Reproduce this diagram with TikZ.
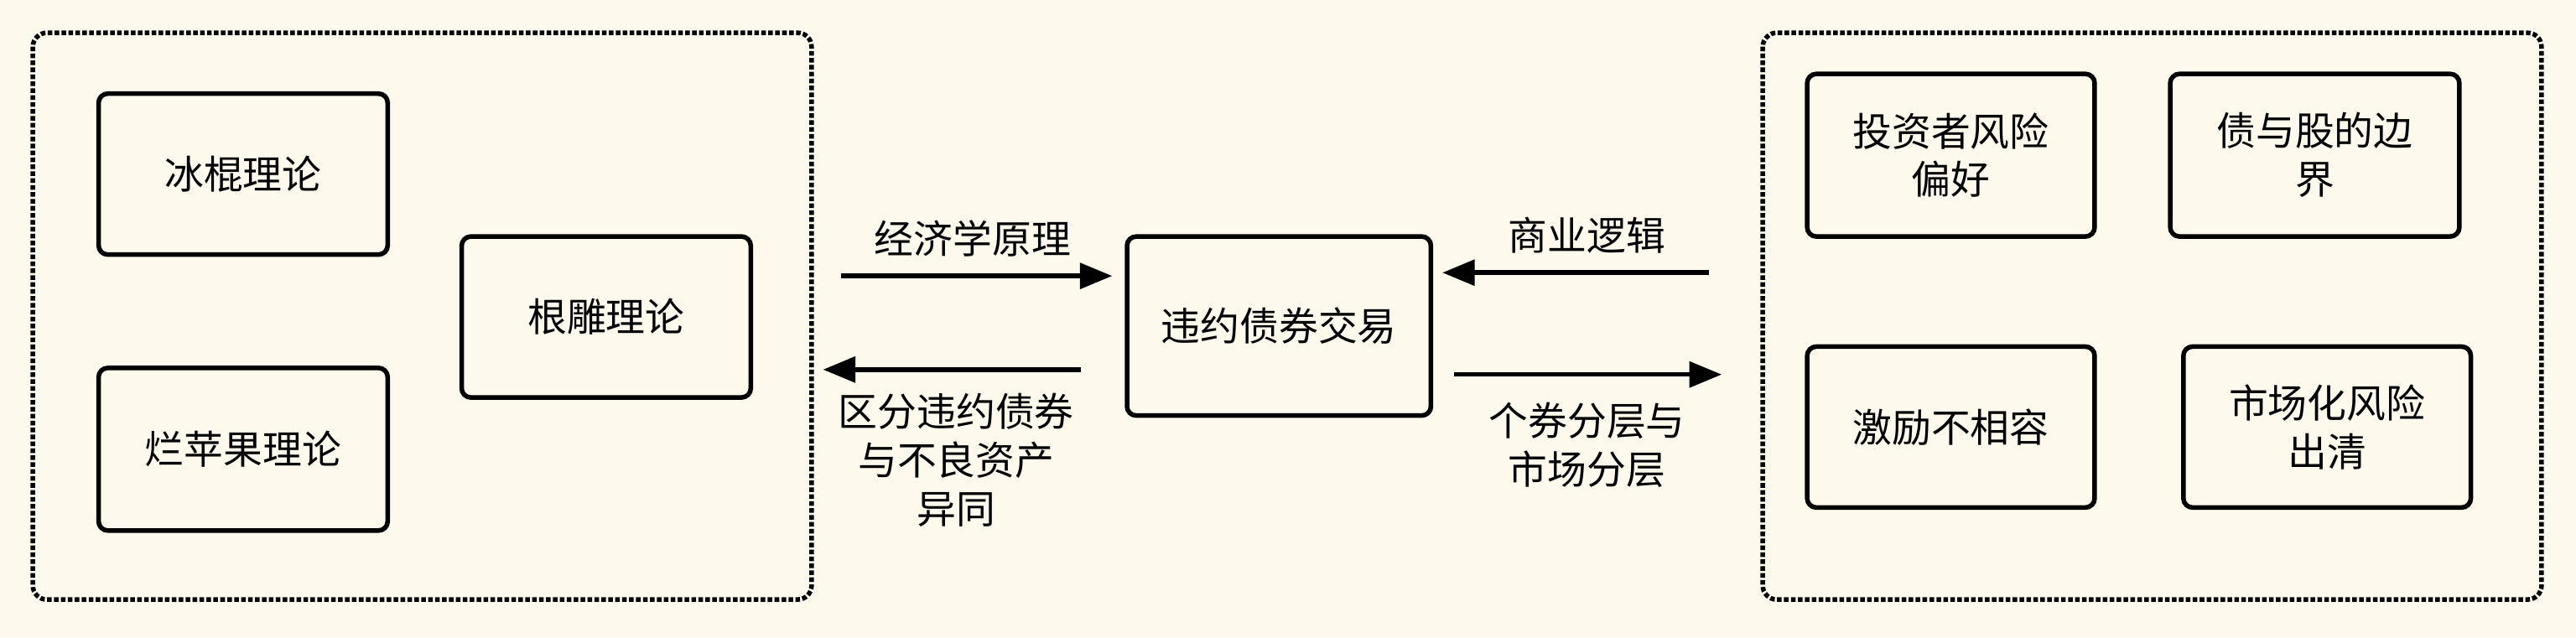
\documentclass[tikz,border=0pt]{standalone}
\usepackage{fontspec}
\setmainfont{Noto Sans CJK SC}
\usetikzlibrary{arrows.meta}
\definecolor{bg}{HTML}{FDF9EC}
\begin{document}
\begin{tikzpicture}[x=0.05cm,y=-0.05cm,
  box/.style={draw,line width=4pt,rounded corners=8pt,fill=bg,align=center},
  cont/.style={draw,line width=4pt,dotted,rounded corners=12pt},
  lab/.style={align=center,font=\fontsize{34}{42}\selectfont},
  arr/.style={line width=4pt,-{Triangle[length=28pt,width=22pt]}}]
\fill[bg] (0,0) rectangle (1568,388);
\useasboundingbox (0,0) rectangle (1568,388);
\draw[cont] (20,20) rectangle (494,365);
\draw[cont] (1073,20) rectangle (1547,365);
\def\bx#1#2#3#4#5#6{\draw[box] (#2,#3) rectangle (#4,#5); \node[lab] (#1) at ({(#2+#4)/2},{(#3+#5)/2}) {#6};}
\bx{a}{60}{57}{236}{155}{冰棍理论}
\bx{b}{60}{224}{236}{323}{烂苹果理论}
\bx{c}{281}{144}{457}{242}{根雕理论}
\bx{d}{686}{144}{871}{253}{违约债券交易}
\bx{e}{1100}{45}{1275}{144}{投资者风险\\偏好}
\bx{f}{1321}{45}{1497}{144}{债与股的边\\界}
\bx{g}{1100}{211}{1275}{309}{激励不相容}
\bx{h}{1329}{211}{1504}{309}{市场化风险\\出清}
\coordinate (p1) at (512,168); \coordinate (p2) at (677,168);
\coordinate (q1) at (658,225); \coordinate (q2) at (501,225);
\coordinate (r1) at (1040,166); \coordinate (r2) at (878,166);
\coordinate (s1) at (885,228); \coordinate (s2) at (1048,228);
\draw[arr] (p1) -- (p2); \draw[arr] (q1) -- (q2);
\draw[arr] (r1) -- (r2); \draw[arr] (s1) -- (s2);
\node[lab] (l1) at (592,145) {经济学原理};
\node[lab] (l2) at (582,280) {区分违约债券\\与不良资产\\异同};
\node[lab] (l3) at (966,143) {商业逻辑};
\node[lab] (l4) at (966,271) {个券分层与\\市场分层};
\end{tikzpicture}
\end{document}
